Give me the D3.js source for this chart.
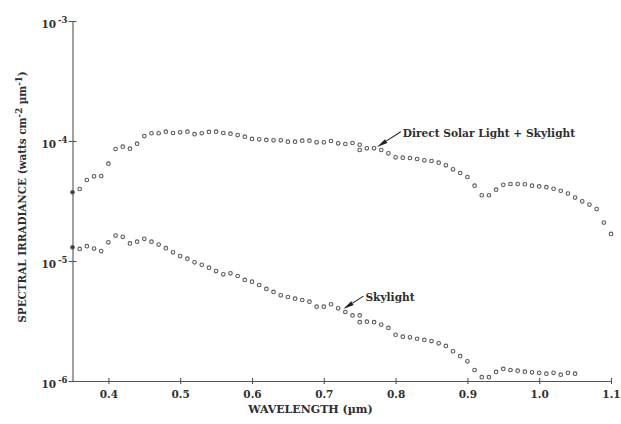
<!DOCTYPE html>
<html>
<head>
<meta charset="utf-8">
<script src="https://cdn.jsdelivr.net/npm/d3@7"></script>
<style>
body { margin: 0; background: #fff; }
svg text { font-family: "DejaVu Serif", serif; font-weight: bold; fill: #2e2e2e; }
</style>
</head>
<body>
<div id="chart"></div>
<script>
// wavelength (um) of the two measurement runs (they overlap at 0.75)
var wl_short = [0.35,0.36,0.37,0.38,0.39,0.40,0.41,0.42,0.43,0.44,0.45,0.46,0.47,0.48,0.49,0.50,
    0.51,0.52,0.53,0.54,0.55,0.56,0.57,0.58,0.59,0.60,0.61,0.62,0.63,0.64,0.65,0.66,0.67,0.68,
    0.69,0.70,0.71,0.72,0.73,0.74,0.75];
var wl_long = [0.75,0.76,0.77,0.78,0.79,0.80,0.81,0.82,0.83,0.84,0.85,0.86,0.87,0.88,0.89,0.90,
    0.91,0.92,0.93,0.94,0.95,0.96,0.97,0.98,0.99,1.00,1.01,1.02,1.03,1.04,1.05,1.06,1.07,1.08,
    1.09,1.10];

// Direct Solar Light + Skylight (watts cm-2 um-1)
var total_short = [3.74e-5,3.98e-5,4.73e-5,5.08e-5,5.11e-5,6.47e-5,8.58e-5,8.96e-5,8.63e-5,9.50e-5,
    1.10e-4,1.16e-4,1.16e-4,1.195e-4,1.166e-4,1.18e-4,1.195e-4,1.14e-4,1.16e-4,1.19e-4,1.195e-4,
    1.166e-4,1.15e-4,1.12e-4,1.086e-4,1.04e-4,1.033e-4,1.02e-4,1.014e-4,1.014e-4,9.87e-5,9.87e-5,
    1.006e-4,1.006e-4,9.75e-5,9.75e-5,1.0e-4,9.57e-5,9.44e-5,9.62e-5,9.31e-5];
var total_long = [8.41e-5,8.69e-5,8.69e-5,8.41e-5,7.89e-5,7.31e-5,7.26e-5,7.22e-5,7.08e-5,6.90e-5,
    6.81e-5,6.60e-5,6.27e-5,5.81e-5,5.41e-5,5.01e-5,4.24e-5,3.53e-5,3.53e-5,3.93e-5,4.32e-5,
    4.38e-5,4.38e-5,4.36e-5,4.24e-5,4.18e-5,4.12e-5,4.00e-5,3.85e-5,3.65e-5,3.38e-5,3.14e-5,
    2.95e-5,2.71e-5,2.09e-5,1.68e-5];

// Skylight
var sky_short = [1.30e-5,1.26e-5,1.33e-5,1.27e-5,1.21e-5,1.43e-5,1.63e-5,1.59e-5,1.40e-5,1.45e-5,
    1.53e-5,1.45e-5,1.37e-5,1.28e-5,1.18e-5,1.10e-5,1.045e-5,9.75e-6,9.31e-6,8.79e-6,8.25e-6,
    7.75e-6,7.89e-6,7.50e-6,6.95e-6,6.72e-6,6.31e-6,5.85e-6,5.52e-6,5.18e-6,5.01e-6,4.85e-6,
    4.73e-6,4.58e-6,4.16e-6,4.16e-6,4.36e-6,4.03e-6,3.76e-6,3.52e-6,3.52e-6];
var sky_long = [3.09e-6,3.12e-6,3.09e-6,2.95e-6,2.77e-6,2.43e-6,2.34e-6,2.31e-6,2.25e-6,2.20e-6,
    2.15e-6,2.06e-6,1.96e-6,1.77e-6,1.61e-6,1.46e-6,1.235e-6,1.076e-6,1.076e-6,1.19e-6,1.26e-6,
    1.235e-6,1.22e-6,1.195e-6,1.18e-6,1.17e-6,1.15e-6,1.17e-6,1.13e-6,1.17e-6,1.15e-6];

var x_ticks = [0.4,0.5,0.6,0.7,0.8,0.9,1.0,1.1];
var y_ticks = [1e-3,1e-4,1e-5,1e-6];

var ann_text = ["Direct Solar Light + Skylight", "Skylight"];
var ann_at = [[0.81, 1.17e-4], [0.758, 5.0e-6]];
var ann_tip = [[0.774, 8.9e-5], [0.727, 3.98e-6]];

var svg = d3.select("#chart")
    .append("svg")
    .attr("width", 621)
    .attr("height", 424);

var xScale = d3.scaleLinear().domain([0.35, 1.1]).range([72.5, 611]),
    yScale = d3.scaleLog().domain([1e-6, 1e-3]).range([381, 21]);

// x axis, ticks cross the line
var gx = svg.append("g")
    .attr("transform", "translate(0,381)")
    .call(d3.axisBottom(xScale).tickValues(x_ticks).tickFormat(d3.format(".1f"))
        .tickSize(3).tickSizeOuter(0).tickPadding(7));
gx.selectAll(".tick line").attr("y1", -3).attr("y2", 3);

var gy = svg.append("g")
    .attr("transform", "translate(72.5,0)")
    .call(d3.axisLeft(yScale).tickValues(y_ticks).tickSize(4).tickSizeOuter(0).tickPadding(2));
gy.selectAll(".tick line").attr("x1", -4).attr("x2", 4);

svg.selectAll(".domain, .tick line").attr("stroke", "#555").attr("stroke-width", 1.1);
svg.selectAll("g").attr("font-family", null).attr("font-size", 10.5);

gy.selectAll(".tick text")
    .attr("dy", "0.62em")
    .attr("x", -5)
    .each(function(d) {
        var t = d3.select(this);
        t.text(null);
        t.append("tspan").text("10");
        t.append("tspan").attr("dx", 2).attr("dy", "-0.55em").attr("font-size", 8.5)
            .text("-" + Math.round(-Math.log10(d)));
    });

// points
function draw_dots(wl, vals) {
    svg.append("g").selectAll("circle")
        .data(vals)
        .enter().append("circle")
        .attr("cx", function(d, i) { return xScale(wl[i]); })
        .attr("cy", function(d) { return yScale(d); })
        .attr("r", 1.8)
        .attr("fill", function(d, i) { return wl[i] == 0.35 ? "#333" : "#fff"; })
        .attr("stroke", "#5a5a5a")
        .attr("stroke-width", 1.1);
}
draw_dots(wl_short, total_short);
draw_dots(wl_long, total_long);
draw_dots(wl_short, sky_short);
draw_dots(wl_long.slice(0, sky_long.length), sky_long);

// annotations with wedge arrows
for (var i = 0; i < ann_text.length; i++) {
    var tx = xScale(ann_at[i][0]), ty = yScale(ann_at[i][1]);
    var px = xScale(ann_tip[i][0]), py = yScale(ann_tip[i][1]);
    var sx = tx - 2, sy = ty - 1;
    var dx = px - sx, dy = py - sy, len = Math.sqrt(dx * dx + dy * dy);
    var ux = dx / len, uy = dy / len;
    var bx = px - ux * 11, by = py - uy * 11;
    svg.append("line")
        .attr("x1", sx).attr("y1", sy).attr("x2", bx).attr("y2", by)
        .attr("stroke", "#222").attr("stroke-width", 1.1);
    svg.append("path")
        .attr("d", "M" + px + "," + py +
            "L" + (bx - uy * 2.2) + "," + (by + ux * 2.2) +
            "L" + (bx + uy * 2.2) + "," + (by - ux * 2.2) + "Z")
        .attr("fill", "#222");
    svg.append("text")
        .attr("x", tx)
        .attr("y", ty)
        .attr("dy", ".35em")
        .attr("font-size", 10.6)
        .text(ann_text[i]);
}

// axis titles
svg.append("text")
    .attr("x", 310.5)
    .attr("y", 413)
    .attr("font-size", 11)
    .style("text-anchor", "middle")
    .text("WAVELENGTH (\u00b5m)");

var yt = svg.append("text")
    .attr("transform", "translate(26,197) rotate(-90)")
    .attr("font-size", 10.4)
    .style("text-anchor", "middle");
yt.append("tspan").text("SPECTRAL IRRADIANCE (watts cm");
yt.append("tspan").attr("dy", -4).attr("font-size", 8.5).text("-2");
yt.append("tspan").attr("dy", 4).text(" \u00b5m");
yt.append("tspan").attr("dy", -4).attr("font-size", 8.5).text("-1");
yt.append("tspan").attr("dy", 4).text(")");
</script>
</body>
</html>
